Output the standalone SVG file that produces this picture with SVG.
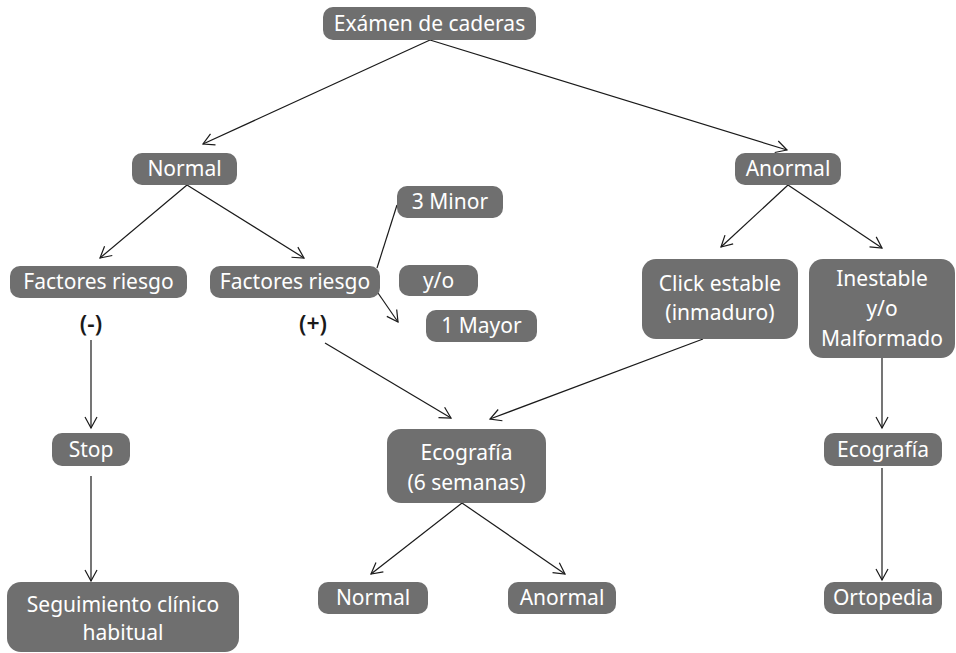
<svg xmlns="http://www.w3.org/2000/svg" width="956" height="653" viewBox="0 0 956 653">
<style>
.b{fill:#6f6f6f}
.t{fill:#ffffff;font-family:"Noto Sans","DejaVu Sans",sans-serif;font-size:21px;text-anchor:middle;dominant-baseline:central}
.s{fill:#1a1a1a;font-family:"Noto Sans","DejaVu Sans",sans-serif;font-size:23px;font-weight:600;text-anchor:middle;dominant-baseline:central}
.c{stroke:#1a1a1a;stroke-width:1.2;fill:none}
.a{marker-end:url(#ah)}
</style>
<defs>
<marker id="ah" viewBox="-12 -7 14 14" refX="0" refY="0" markerWidth="14" markerHeight="14" markerUnits="userSpaceOnUse" orient="auto">
<path d="M-11,-6 L0,0 L-11,6" fill="none" stroke="#1a1a1a" stroke-width="1.2"/>
</marker>
</defs>
<rect width="956" height="653" fill="#ffffff"/>
<g id="connectors">
<line class="c a" x1="430" y1="40" x2="203" y2="144"/>
<line class="c a" x1="430" y1="40" x2="787" y2="150"/>
<line class="c a" x1="187" y1="185" x2="100" y2="258"/>
<line class="c a" x1="187" y1="185" x2="304" y2="258"/>
<line class="c" x1="377" y1="268" x2="397" y2="205"/>
<line class="c a" x1="378" y1="293" x2="398" y2="322"/>
<line class="c a" x1="91" y1="340" x2="91" y2="428"/>
<line class="c a" x1="91" y1="476" x2="91" y2="581"/>
<line class="c a" x1="325" y1="343" x2="451" y2="418"/>
<line class="c a" x1="703" y1="339" x2="490" y2="419"/>
<line class="c a" x1="788" y1="185" x2="721" y2="247"/>
<line class="c a" x1="788" y1="185" x2="882" y2="248"/>
<line class="c a" x1="882" y1="358" x2="882" y2="428"/>
<line class="c a" x1="882" y1="468" x2="882" y2="580"/>
<line class="c a" x1="462" y1="503" x2="371" y2="574"/>
<line class="c a" x1="462" y1="503" x2="565" y2="574"/>
</g>
<g id="examen"><rect class="b" x="323" y="7" width="213" height="33" rx="10"/><text class="t" x="429.5" y="22.5">Exámen de caderas</text></g>
<g id="normal1"><rect class="b" x="132" y="153" width="105" height="32" rx="10"/><text class="t" x="184.5" y="168">Normal</text></g>
<g id="anormal1"><rect class="b" x="735" y="153" width="106" height="32" rx="10"/><text class="t" x="788" y="168">Anormal</text></g>
<g id="factores-neg"><rect class="b" x="10" y="266" width="177" height="32" rx="10"/><text class="t" x="98.5" y="281">Factores riesgo</text><text class="s" x="91" y="323">(-)</text></g>
<g id="factores-pos"><rect class="b" x="210" y="266" width="170" height="32" rx="10"/><text class="t" x="295" y="281">Factores riesgo</text><text class="s" x="313" y="323">(+)</text></g>
<g id="minor"><rect class="b" x="397" y="186" width="106" height="32" rx="10"/><text class="t" x="450" y="201">3 Minor</text></g>
<g id="yo"><rect class="b" x="399" y="265" width="79" height="31" rx="10"/><text class="t" x="438.5" y="279.5">y/o</text></g>
<g id="mayor"><rect class="b" x="426" y="310" width="111" height="32" rx="10"/><text class="t" x="481.5" y="325">1 Mayor</text></g>
<g id="click"><rect class="b" x="642" y="259" width="156" height="80" rx="14"/><text class="t" x="720" y="283">Click estable</text><text class="t" x="720" y="312">(inmaduro)</text></g>
<g id="inestable"><rect class="b" x="809" y="259" width="146" height="99" rx="14"/><text class="t" x="882" y="278">Inestable</text><text class="t" x="882" y="308">y/o</text><text class="t" x="882" y="338">Malformado</text></g>
<g id="stop"><rect class="b" x="52" y="433" width="78" height="33" rx="10"/><text class="t" x="91" y="448.5">Stop</text></g>
<g id="seguimiento"><rect class="b" x="7" y="582" width="232" height="70" rx="14"/><text class="t" x="123" y="604">Seguimiento clínico</text><text class="t" x="123" y="632">habitual</text></g>
<g id="ecografia6"><rect class="b" x="387" y="429" width="159" height="74" rx="14"/><text class="t" x="466.5" y="452">Ecografía</text><text class="t" x="466.5" y="482">(6 semanas)</text></g>
<g id="normal2"><rect class="b" x="318" y="582" width="110" height="32" rx="10"/><text class="t" x="373" y="597">Normal</text></g>
<g id="anormal2"><rect class="b" x="508" y="582" width="108" height="32" rx="10"/><text class="t" x="562" y="597">Anormal</text></g>
<g id="ecografia"><rect class="b" x="824" y="433" width="118" height="33" rx="10"/><text class="t" x="883" y="448.5">Ecografía</text></g>
<g id="ortopedia"><rect class="b" x="824" y="582" width="118" height="32" rx="10"/><text class="t" x="883" y="597">Ortopedia</text></g>
</svg>
